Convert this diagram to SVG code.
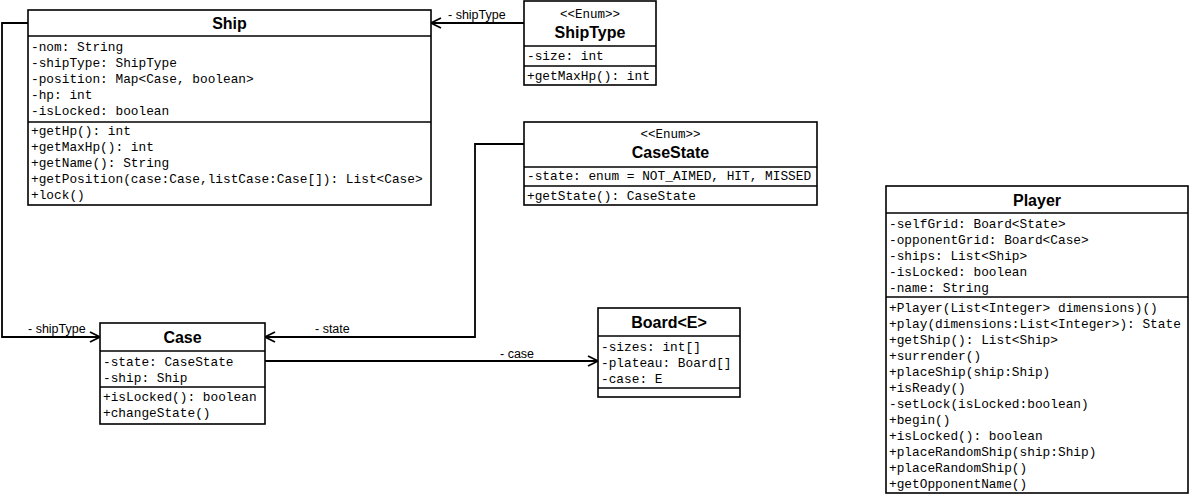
<svg xmlns="http://www.w3.org/2000/svg" width="1192" height="495" viewBox="0 0 1192 495">
<style>
.box{fill:#fff;stroke:#000;stroke-width:1.6}
.sep{stroke:#000;stroke-width:1.6}
.title{font-family:"Liberation Sans",Arial,sans-serif;font-weight:bold;font-size:16px;text-anchor:middle}
.stereo{font-family:"Liberation Mono","Courier New",monospace;font-size:12.5px;text-anchor:middle}
.m{font-family:"Liberation Mono","Courier New",monospace;font-size:12.8px}
.lbl{font-family:"Liberation Sans",Arial,sans-serif;font-size:12.5px}
.conn{fill:none;stroke:#000;stroke-width:1.8}
</style>
<defs>
<marker id="open" viewBox="0 0 12 12" refX="11" refY="6" markerWidth="12" markerHeight="12" markerUnits="userSpaceOnUse" orient="auto">
<path d="M1,1 L11,6 L1,11" fill="none" stroke="#000" stroke-width="1.8"/>
</marker>
</defs>
<rect width="1192" height="495" fill="#fff"/>
<g id="connectors">
<path class="conn" d="M28,23 H2 V337 H100" marker-end="url(#open)"/>
<path class="conn" d="M524,23 H431" marker-end="url(#open)"/>
<path class="conn" d="M524,144 H475 V337 H265" marker-end="url(#open)"/>
<path class="conn" d="M265,361 H598" marker-end="url(#open)"/>
<text class="lbl" x="448" y="19">- shipType</text>
<text class="lbl" x="28" y="333">- shipType</text>
<text class="lbl" x="315" y="333">- state</text>
<text class="lbl" x="500" y="358">- case</text>
</g>
<g id="Ship">
<rect class="box" x="28" y="10" width="403" height="195"/>
<line class="sep" x1="28" y1="36" x2="431" y2="36"/>
<line class="sep" x1="28" y1="122" x2="431" y2="122"/>
<text class="title" x="229.5" y="29">Ship</text>
<text class="m" x="31" y="51">-nom: String</text>
<text class="m" x="31" y="67">-shipType: ShipType</text>
<text class="m" x="31" y="83">-position: Map&lt;Case, boolean&gt;</text>
<text class="m" x="31" y="99">-hp: int</text>
<text class="m" x="31" y="115">-isLocked: boolean</text>
<text class="m" x="31" y="135">+getHp(): int</text>
<text class="m" x="31" y="151">+getMaxHp(): int</text>
<text class="m" x="31" y="167">+getName(): String</text>
<text class="m" x="31" y="183">+getPosition(case:Case,listCase:Case[]): List&lt;Case&gt;</text>
<text class="m" x="31" y="199">+lock()</text>
</g>
<g id="ShipType">
<rect class="box" x="524" y="1" width="132" height="84"/>
<line class="sep" x1="524" y1="46" x2="656" y2="46"/>
<line class="sep" x1="524" y1="66" x2="656" y2="66"/>
<text class="stereo" x="590" y="18">&lt;&lt;Enum&gt;&gt;</text>
<text class="title" x="590" y="38">ShipType</text>
<text class="m" x="527" y="60">-size: int</text>
<text class="m" x="527" y="80">+getMaxHp(): int</text>
</g>
<g id="CaseState">
<rect class="box" x="524" y="122" width="293" height="83"/>
<line class="sep" x1="524" y1="167" x2="817" y2="167"/>
<line class="sep" x1="524" y1="186" x2="817" y2="186"/>
<text class="stereo" x="670.5" y="138">&lt;&lt;Enum&gt;&gt;</text>
<text class="title" x="670.5" y="158">CaseState</text>
<text class="m" x="527" y="180">-state: enum = NOT_AIMED, HIT, MISSED</text>
<text class="m" x="527" y="200">+getState(): CaseState</text>
</g>
<g id="Case">
<rect class="box" x="100" y="323" width="165" height="101"/>
<line class="sep" x1="100" y1="351" x2="265" y2="351"/>
<line class="sep" x1="100" y1="387" x2="265" y2="387"/>
<text class="title" x="182.5" y="343">Case</text>
<text class="m" x="103" y="366">-state: CaseState</text>
<text class="m" x="103" y="382">-ship: Ship</text>
<text class="m" x="103" y="401">+isLocked(): boolean</text>
<text class="m" x="103" y="417">+changeState()</text>
</g>
<g id="Board">
<rect class="box" x="598" y="308" width="142" height="89"/>
<line class="sep" x1="598" y1="336" x2="740" y2="336"/>
<line class="sep" x1="598" y1="388" x2="740" y2="388"/>
<text class="title" x="669" y="328">Board&lt;E&gt;</text>
<text class="m" x="601" y="351">-sizes: int[]</text>
<text class="m" x="601" y="367">-plateau: Board[]</text>
<text class="m" x="601" y="383">-case: E</text>
</g>
<g id="Player">
<rect class="box" x="886" y="186" width="302" height="307"/>
<line class="sep" x1="886" y1="213" x2="1188" y2="213"/>
<line class="sep" x1="886" y1="297" x2="1188" y2="297"/>
<text class="title" x="1037" y="206">Player</text>
<text class="m" x="889" y="228">-selfGrid: Board&lt;State&gt;</text>
<text class="m" x="889" y="244">-opponentGrid: Board&lt;Case&gt;</text>
<text class="m" x="889" y="260">-ships: List&lt;Ship&gt;</text>
<text class="m" x="889" y="276">-isLocked: boolean</text>
<text class="m" x="889" y="292">-name: String</text>
<text class="m" x="889" y="312">+Player(List&lt;Integer&gt; dimensions)()</text>
<text class="m" x="889" y="328">+play(dimensions:List&lt;Integer&gt;): State</text>
<text class="m" x="889" y="344">+getShip(): List&lt;Ship&gt;</text>
<text class="m" x="889" y="360">+surrender()</text>
<text class="m" x="889" y="376">+placeShip(ship:Ship)</text>
<text class="m" x="889" y="392">+isReady()</text>
<text class="m" x="889" y="408">-setLock(isLocked:boolean)</text>
<text class="m" x="889" y="424">+begin()</text>
<text class="m" x="889" y="440">+isLocked(): boolean</text>
<text class="m" x="889" y="456">+placeRandomShip(ship:Ship)</text>
<text class="m" x="889" y="472">+placeRandomShip()</text>
<text class="m" x="889" y="488">+getOpponentName()</text>
</g>
</svg>
